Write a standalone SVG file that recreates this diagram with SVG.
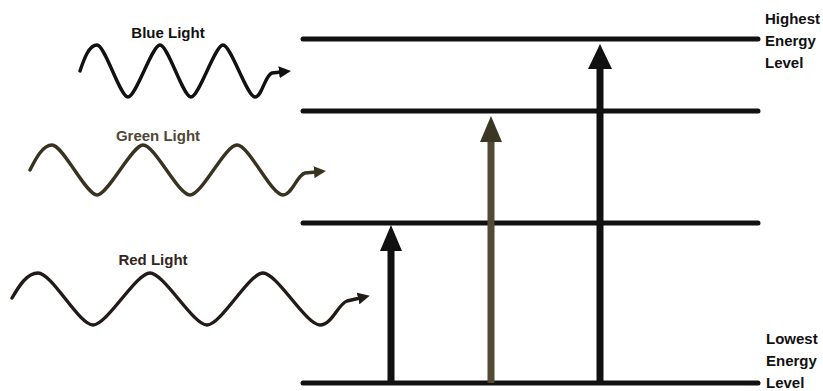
<svg xmlns="http://www.w3.org/2000/svg" width="823" height="391" viewBox="0 0 823 391">
  <style>
    .lbl { font-family: "Liberation Sans", Arial, sans-serif; font-weight: bold; font-size: 15px; fill: #111; }
    .level { stroke: #111; stroke-width: 5; stroke-linecap: round; fill: none; }
    .wave { fill: none; stroke-width: 3.4; stroke-linejoin: round; stroke-linecap: round; }
    .shaft { stroke-width: 7; fill: none; }
  </style>
  <defs>
    <marker id="wa-blue" viewBox="0 0 12 12" refX="2" refY="6" markerWidth="12" markerHeight="12" markerUnits="userSpaceOnUse" orient="auto">
      <path d="M0,0 L12,6 L0,12 Z" fill="#111"/>
    </marker>
    <marker id="wa-green" viewBox="0 0 12 12" refX="2" refY="6" markerWidth="12" markerHeight="12" markerUnits="userSpaceOnUse" orient="auto">
      <path d="M0,0 L12,6 L0,12 Z" fill="#3a3220"/>
    </marker>
    <marker id="wa-red" viewBox="0 0 12 12" refX="2" refY="6" markerWidth="12" markerHeight="12" markerUnits="userSpaceOnUse" orient="auto">
      <path d="M0,0 L12,6 L0,12 Z" fill="#221a16"/>
    </marker>
  </defs>

  <g id="energy-levels">
    <line class="level" x1="303" y1="39" x2="758" y2="39"/>
    <line class="level" x1="303" y1="111" x2="758" y2="111"/>
    <line class="level" x1="303" y1="223" x2="758" y2="223"/>
    <line class="level" x1="303" y1="383" x2="758" y2="383"/>
  </g>

  <g id="connectors">
    <g id="red-transition">
      <line class="shaft" x1="391" y1="383" x2="391" y2="248" stroke="#111"/>
      <path d="M391,225 L402,251 L380,251 Z" fill="#111"/>
    </g>
    <g id="green-transition">
      <line class="shaft" x1="491" y1="383" x2="491" y2="140" stroke="#514a34"/>
      <path d="M491,116 L502,142 L480,142 Z" fill="#3c3624"/>
    </g>
    <g id="blue-transition">
      <line class="shaft" x1="600" y1="383" x2="600" y2="66" stroke="#111"/>
      <path d="M600,44 L612,69 L588,69 Z" fill="#111"/>
    </g>
  </g>

  <g id="blue-light">
    <text class="lbl" x="168" y="38" text-anchor="middle">Blue Light</text>
    <path class="wave" stroke="#111" marker-end="url(#wa-blue)" d="M80,71 C84,59 89,45 97,45 C105,45 120,97 128,97 C136,97 152,45 160,45 C168,45 183,97 191,97 C199,97 215,45 223,45 C231,45 247,97 255,97 C262,97 265,75 272,73 L281,72"/>
  </g>

  <g id="green-light">
    <text class="lbl" x="158" y="141" text-anchor="middle" style="fill:#4f4736">Green Light</text>
    <path class="wave" stroke="#3a3220" marker-end="url(#wa-green)" d="M30,170 C36,158 43,145 52,145 C63,145 86,195 97,195 C108,195 132,145 143,145 C155,145 178,195 190,195 C202,195 225,145 237,145 C249,145 271,195 283,195 C292,195 297,175 305,173 L316,172"/>
  </g>

  <g id="red-light">
    <text class="lbl" x="153" y="265" text-anchor="middle" style="fill:#33261e">Red Light</text>
    <path class="wave" stroke="#221a16" marker-end="url(#wa-red)" d="M12,298 C19,286 27,273 38,273 C52,273 79,325 93,325 C107,325 136,273 150,273 C164,273 193,325 207,325 C221,325 249,273 263,273 C277,273 306,325 320,325 C332,325 338,304 347,301 L360,298"/>
  </g>

  <g id="highest-label">
    <text class="lbl" x="765" y="24">Highest</text>
    <text class="lbl" x="765" y="46">Energy</text>
    <text class="lbl" x="765" y="68">Level</text>
  </g>

  <g id="lowest-label">
    <text class="lbl" x="766" y="344">Lowest</text>
    <text class="lbl" x="766" y="366">Energy</text>
    <text class="lbl" x="766" y="388">Level</text>
  </g>
</svg>
